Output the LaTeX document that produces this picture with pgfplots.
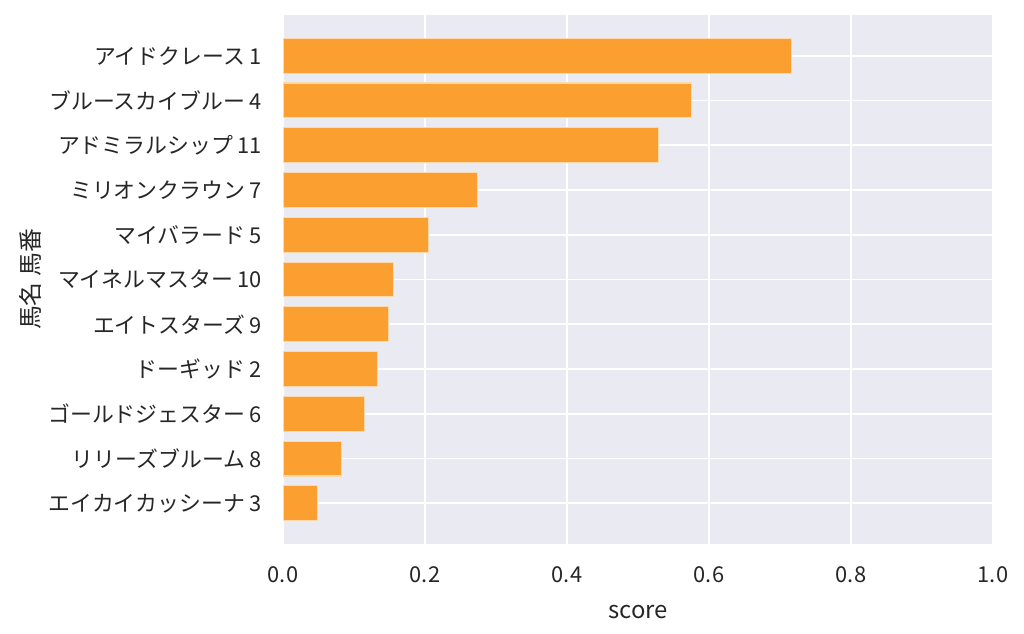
\documentclass[border=0pt]{standalone}
\usepackage{pgfplots}
\pgfplotsset{compat=1.18}
\usepackage{fontspec}
\setmainfont{Noto Sans CJK JP}
\definecolor{bgc}{HTML}{EAEAF2}
\definecolor{barc}{HTML}{FB9F30}
\definecolor{edgec}{HTML}{FDD9AE}
\definecolor{txt}{HTML}{262626}
\begin{document}
\fontsize{16.4pt}{19pt}\selectfont
\begin{tikzpicture}
\useasboundingbox (0,0) rectangle (768pt,475.5pt);
\begin{axis}[
  at={(212.25pt,67.5pt)}, anchor=south west,
  scale only axis, width=532.5pt, height=396.75pt,
  xbar, bar width=0.78,
  xmin=0, xmax=1, ymin=-0.91, ymax=10.91,
  y dir=reverse,
  axis background/.style={fill=bgc},
  axis line style={draw=none},
  major tick length=0pt,
  grid=major, major grid style={white, line width=1.3pt},
  xtick={0,0.2,0.4,0.6,0.8,1.0},
  xticklabels={0.0,0.2,0.4,0.6,0.8,1.0},
  ytick={0,...,10},
  yticklabels={アイドクレース 1,ブルースカイブルー 4,アドミラルシップ 11,ミリオンクラウン 7,マイバラード 5,マイネルマスター 10,エイトスターズ 9,ドーギッド 2,ゴールドジェスター 6,リリーズブルーム 8,エイカイカッシーナ 3},
  ticklabel style={font=\fontsize{16.4pt}{19pt}\selectfont, text=txt},
  /pgf/number format/assume math mode=true,
  xticklabel style={yshift=-11pt},
  yticklabel style={xshift=-10pt},
  xlabel={score}, ylabel={馬名 馬番},
  label style={font=\fontsize{17.9pt}{21pt}\selectfont, text=txt},
  xlabel style={yshift=-6pt},
  ylabel style={yshift=-6pt},
]
\addplot[fill=barc, draw=edgec, line width=0.8pt] coordinates {
(0.716,0) (0.575,1) (0.529,2) (0.274,3) (0.2045,4) (0.155,5) (0.148,6) (0.133,7) (0.115,8) (0.082,9) (0.049,10)
};
\end{axis}
\end{tikzpicture}
\end{document}
